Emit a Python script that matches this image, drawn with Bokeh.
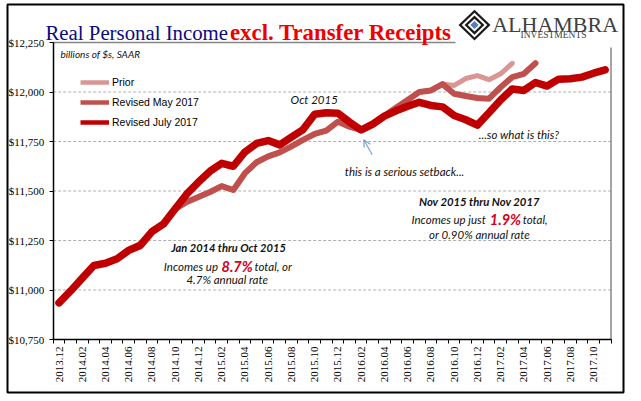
import math
from bokeh.plotting import figure
from bokeh.models import (Range1d, FixedTicker, NumeralTickFormatter, Label, Arrow, OpenHead,
                          Legend, LegendItem)
from bokeh.embed import file_html
from bokeh.resources import INLINE

# ---------------- data ----------------
months = ["2013.12", "2014.01", "2014.02", "2014.03", "2014.04", "2014.05", "2014.06", "2014.07",
          "2014.08", "2014.09", "2014.10", "2014.11", "2014.12", "2015.01", "2015.02", "2015.03",
          "2015.04", "2015.05", "2015.06", "2015.07", "2015.08", "2015.09", "2015.10", "2015.11",
          "2015.12", "2016.01", "2016.02", "2016.03", "2016.04", "2016.05", "2016.06", "2016.07",
          "2016.08", "2016.09", "2016.10", "2016.11", "2016.12", "2017.01", "2017.02", "2017.03",
          "2017.04", "2017.05", "2017.06", "2017.07", "2017.08", "2017.09", "2017.10", "2017.11"]

revised_july = [10935, 10995, 11060, 11124, 11135, 11158, 11200, 11225, 11295, 11334,
                11410, 11485, 11545, 11600, 11640, 11625, 11697, 11740, 11755, 11733,
                11772, 11810, 11888, 11895, 11893, 11848, 11808, 11838, 11878, 11905,
                11928, 11948, 11932, 11925, 11881, 11860, 11833, 11895, 11960, 12015,
                12008, 12048, 12030, 12065, 12067, 12075, 12095, 12112]

revised_may = [10935, 10995, 11060, 11124, 11135, 11158, 11200, 11225, 11295, 11334,
               11410, 11445, 11470, 11495, 11525, 11505, 11590, 11645, 11675, 11695,
               11725, 11758, 11788, 11805, 11850, 11825, 11808, 11838, 11880, 11920,
               11960, 12000, 12008, 12040, 11991, 11980, 11970, 11966, 12024, 12075,
               12092, 12145]

prior = [10935, 10995, 11060, 11124, 11135, 11160, 11208, 11235, 11302, 11338,
         11410, 11445, 11470, 11495, 11525, 11505, 11590, 11645, 11675, 11695,
         11725, 11758, 11788, 11805, 11850, 11825, 11808, 11838, 11880, 11920,
         11960, 12000, 12008, 12040, 12033, 12068, 12083, 12062, 12092, 12145]

series_names = ["Prior", "Revised May 2017", "Revised July 2017"]
series_colors = ["#D99694", "#C0504D", "#C00000"]
y_ticks = [10750, 11000, 11250, 11500, 11750, 12000, 12250]

# ---------------- layout (page pixels) ----------------
FL, FT, FW, FH = 7, 4, 616, 388            # outer bordered box
AL, AR, AT, AB = 52.7, 610.5, 42.0, 339.0  # plotting area
n = len(months)
ppx = (AR - AL) / n
ppy = (AB - AT) / (y_ticks[-1] - y_ticks[0])
x0 = -0.5 - (AL - FL) / ppx
x1 = n - 0.5 + (FL + FW - AR) / ppx
y1 = y_ticks[-1] + (AT - FT) / ppy
y0 = y_ticks[0] - (FT + FH - AB) / ppy


def dx(px):
    return x0 + (px - FL) / ppx


def dy(py):
    return y1 - (py - FT) / ppy


p = figure(frame_width=FW, frame_height=FH, x_range=Range1d(x0, x1), y_range=Range1d(y0, y1),
           min_border_left=FL, min_border_top=FT, min_border_right=8, min_border_bottom=8,
           output_backend="svg", toolbar_location=None)
p.outline_line_color = "black"
p.outline_line_width = 2
p.background_fill_color = "white"
p.border_fill_color = "white"
p.xgrid.visible = False
p.ygrid.visible = False

# x axis (inside the frame, on the 10,750 line)
xa = p.xaxis[0]
xa.fixed_location = y_ticks[0]
xa.bounds = (-0.5, n - 0.5)
label_idx = list(range(0, n, 2))
xa.ticker = FixedTicker(ticks=label_idx, minor_ticks=[i - 0.5 for i in range(n + 1)])
xa.major_label_overrides = {i: months[i] for i in label_idx}
xa.major_label_orientation = math.pi / 2
xa.major_tick_in = 0
xa.major_tick_out = 0
xa.minor_tick_in = 0
xa.minor_tick_out = 4
xa.minor_tick_line_color = "black"
xa.axis_line_color = "black"
xa.axis_line_width = 1.5
xa.major_label_text_font = "Liberation Serif"
xa.major_label_text_font_size = "11px"
xa.major_label_text_color = "black"
xa.major_label_standoff = 3

ya = p.yaxis[0]
ya.fixed_location = -0.5
ya.bounds = (y_ticks[0], y_ticks[-1])
ya.ticker = FixedTicker(ticks=y_ticks)
ya.formatter = NumeralTickFormatter(format="$0,0")
ya.major_tick_in = 0
ya.major_tick_out = 4
ya.minor_tick_line_color = None
ya.axis_line_color = "black"
ya.axis_line_width = 1.5
ya.major_label_text_font = "Liberation Serif"
ya.major_label_text_font_size = "11px"
ya.major_label_text_color = "black"
ya.major_label_standoff = 5

# dashed grid lines between the axis and the right border
grid_vals = y_ticks[1:-1]
p.segment(x0=[-0.5] * len(grid_vals), y0=grid_vals, x1=[n - 0.5] * len(grid_vals), y1=grid_vals,
          line_color="#AFAFAF", line_dash="3 2", line_width=1)
# grey plot-area border (top stops at the logo, right starts below it)
p.segment(x0=[-0.5, n - 0.5], y0=[y_ticks[-1], y_ticks[0]], x1=[dx(455), n - 0.5],
          y1=[y_ticks[-1], dy(47)], line_color="#868686", line_width=1.5)

# ---------------- lines ----------------
data = [prior, revised_may, revised_july]
widths = [5, 6, 7.5]
dummies = []
for vals, col, w in zip(data, series_colors, widths):
    p.line(x=list(range(len(vals))), y=vals, line_color=col, line_width=w,
           line_join="round", line_cap="round")
    dummies.append(p.line(x=[0], y=[float("nan")], line_color=col, line_width=4.5))

legend = Legend(items=[LegendItem(label=nm, renderers=[r]) for nm, r in zip(series_names, dummies)],
                location=(80 - FL, FT + FH - 131.7), margin=0, padding=0,
                glyph_width=29, glyph_height=20, label_height=20, spacing=0, label_standoff=3,
                background_fill_alpha=0, border_line_alpha=0,
                label_text_font="Liberation Sans", label_text_font_size="10.5px",
                label_text_color="black")
p.add_layout(legend)

# ---------------- logo ----------------
cxd, cyd = dx(474), dy(24.6)
hx, hy = 16 / ppx, 15.4 / ppy
diamond_scales = [1.0, 0.8, 0.62, 0.42, 0.26]
diamond_colors = ["#1A1A1A", "white", "#1A1A1A", "white", "#4F81BD"]
p.patches(xs=[[cxd, cxd + s * hx, cxd, cxd - s * hx] for s in diamond_scales],
          ys=[[cyd + s * hy, cyd, cyd - s * hy, cyd] for s in diamond_scales],
          fill_color=diamond_colors, line_color=None)


def add_text(px, py, text, size="11.5px", style="italic", color="#111111", align="left",
             font="Lato", baseline="middle"):
    p.add_layout(Label(x=dx(px), y=dy(py), text=text,
                       text_font=font, text_font_size=size, text_font_style=style,
                       text_color=color, text_align=align, text_baseline=baseline))


# title and logo text
add_text(45, 31.5, "Real Personal Income", size="20.8px", style="normal", color="#0B0B80",
         font="Liberation Serif", baseline="alphabetic")
add_text(229.5, 31.5, "excl. Transfer Receipts", size="22.8px", style="bold", color="#EE0000",
         font="Liberation Serif", baseline="alphabetic")
add_text(491.7, 23.7, "ALHAMBRA", size="22px", style="normal", color="#404040",
         font="Liberation Serif", baseline="alphabetic")
add_text(553, 34, "INVESTMENTS", size="9.5px", style="normal", color="#404040",
         font="Liberation Serif", align="center", baseline="alphabetic")

# notes
add_text(60, 53, "billions of $s, SAAR", size="10px")
add_text(313.7, 99, "Oct 2015", align="center")
add_text(344.3, 171, "this is a serious setback...")
add_text(478.3, 134, "...so what is this?")
add_text(479, 201, "Nov 2015 thru Nov 2017", size="11.3px", style="bold italic", align="center")
add_text(411, 219.3, "Incomes up just")
add_text(489.3, 219.3, "1.9%", size="14.5px", style="bold italic", color="#D0021B")
add_text(522.3, 219.3, "total,")
add_text(479, 234, "or 0.90% annual rate", align="center")
add_text(228, 247.3, "Jan 2014 thru Oct 2015", size="11.1px", style="bold italic", align="center")
add_text(163.3, 265.7, "Incomes up")
add_text(221, 265.7, "8.7%", size="14.5px", style="bold italic", color="#D0021B")
add_text(254, 265.7, "total, or")
add_text(228, 279.3, "4.7% annual  rate", align="center")

p.add_layout(Arrow(x_start=dx(371.7), y_start=dy(154.3), x_end=dx(363.3), y_end=dy(139.3),
                   line_color="#7F9FCF", line_width=1.2,
                   end=OpenHead(size=7, line_color="#7F9FCF", line_width=1.2)))

open("out.html", "w").write(file_html(p, INLINE))
